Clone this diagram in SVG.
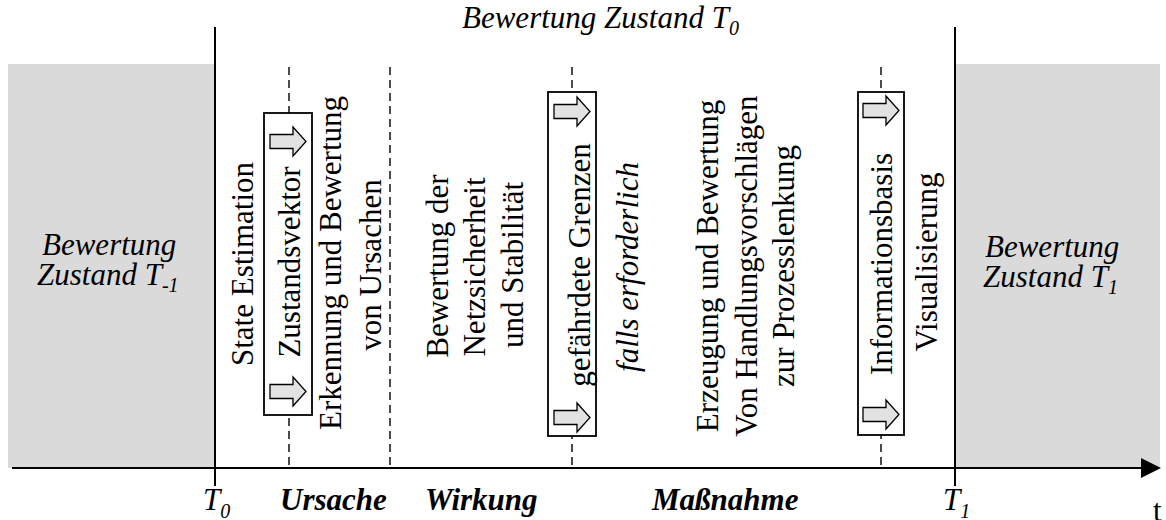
<svg xmlns="http://www.w3.org/2000/svg" xmlns:xlink="http://www.w3.org/1999/xlink" width="1166" height="520" viewBox="0 0 1166 520">
<style>
text{font-family:'Liberation Serif','DejaVu Serif',serif;font-size:31px;fill:#000}
.it{font-style:italic}
.bi{font-style:italic;font-weight:bold}
.sub{font-size:20px}
.gray{fill:#dadada;stroke:none}
.solid{stroke:#000;stroke-width:2;fill:none}
.dash{stroke:#000;stroke-width:1.4;stroke-dasharray:8,5;fill:none}
.box{fill:#fff;stroke:#000;stroke-width:1.8}
.arr{fill:#e2e2e2;stroke:#000;stroke-width:1.3}
.rt{text-anchor:middle}
</style>
<defs>
<path id="blk" d="M0,7.5 H23 V0 L36,14.5 L23,29 V21.5 H0 Z"/>
</defs>
<g id="bg">
<rect class="gray" x="8" y="64" width="207" height="404"/>
<rect class="gray" x="955" y="64" width="205" height="404"/>
</g>
<g id="connectors">
<line class="dash" x1="289" y1="67" x2="289" y2="468"/>
<line class="dash" x1="390" y1="67" x2="390" y2="468"/>
<line class="dash" x1="572" y1="67" x2="572" y2="468"/>
<line class="dash" x1="881" y1="67" x2="881" y2="468"/>
<line class="solid" x1="215" y1="27" x2="215" y2="486"/>
<line class="solid" x1="955" y1="27" x2="955" y2="486"/>
<line class="solid" x1="12" y1="468" x2="1143" y2="468"/>
<polygon points="1141,458 1161,468 1141,478" fill="#000"/>
</g>
<g id="title">
<text class="it" x="462" y="28">Bewertung Zustand T<tspan class="sub" dy="7">0</tspan></text>
</g>
<g id="left-state">
<text class="it" x="42" y="255">Bewertung</text>
<text class="it" x="37" y="285">Zustand T<tspan class="sub" dy="7">-1</tspan></text>
</g>
<g id="right-state">
<text class="it" x="985" y="257">Bewertung</text>
<text class="it" x="983" y="287">Zustand T<tspan class="sub" dy="7">1</tspan></text>
</g>
<g id="state-estimation">
<text class="rt" transform="translate(253,264) rotate(-90)">State Estimation</text>
</g>
<g id="zustandsvektor">
<rect class="box" x="264" y="113" width="48" height="302"/>
<use href="#blk" class="arr" x="270" y="127"/>
<use href="#blk" class="arr" x="270" y="377"/>
<text class="rt" transform="translate(300,262) rotate(-90)">Zustandsvektor</text>
</g>
<g id="erkennung">
<text class="rt" transform="translate(341,263) rotate(-90)">Erkennung und Bewertung</text>
<text class="rt" transform="translate(381,265) rotate(-90)">von Ursachen</text>
</g>
<g id="bewertung-netz">
<text class="rt" transform="translate(448,266) rotate(-90)">Bewertung der</text>
<text class="rt" transform="translate(485,267) rotate(-90)">Netzsicherheit</text>
<text class="rt" transform="translate(523,265) rotate(-90)">und Stabilität</text>
</g>
<g id="grenzen">
<rect class="box" x="548" y="92" width="48" height="344"/>
<use href="#blk" class="arr" x="554" y="97"/>
<use href="#blk" class="arr" x="554" y="403"/>
<text class="rt" transform="translate(590,265) rotate(-90)">gefährdete Grenzen</text>
</g>
<g id="falls">
<text class="rt it" transform="translate(638,267) rotate(-90)">falls erforderlich</text>
</g>
<g id="erzeugung">
<text class="rt" transform="translate(718,266) rotate(-90)">Erzeugung und Bewertung</text>
<text class="rt" transform="translate(757,266) rotate(-90)">Von Handlungsvorschlägen</text>
<text class="rt" transform="translate(794,266) rotate(-90)">zur Prozesslenkung</text>
</g>
<g id="informationsbasis">
<rect class="box" x="858" y="92" width="46" height="343"/>
<use href="#blk" class="arr" x="863" y="96"/>
<use href="#blk" class="arr" x="863" y="400"/>
<text class="rt" transform="translate(892,264) rotate(-90)">Informationsbasis</text>
</g>
<g id="visualisierung">
<text class="rt" transform="translate(937,262) rotate(-90)">Visualisierung</text>
</g>
<g id="axis-labels">
<text class="it" x="203" y="510">T<tspan class="sub" dy="8">0</tspan></text>
<text class="it" x="943" y="510">T<tspan class="sub" dy="8">1</tspan></text>
<text class="bi" x="280" y="510">Ursache</text>
<text class="bi" x="425" y="510">Wirkung</text>
<text class="bi" x="652" y="510">Maßnahme</text>
<text x="1153" y="521">t</text>
</g>
</svg>
